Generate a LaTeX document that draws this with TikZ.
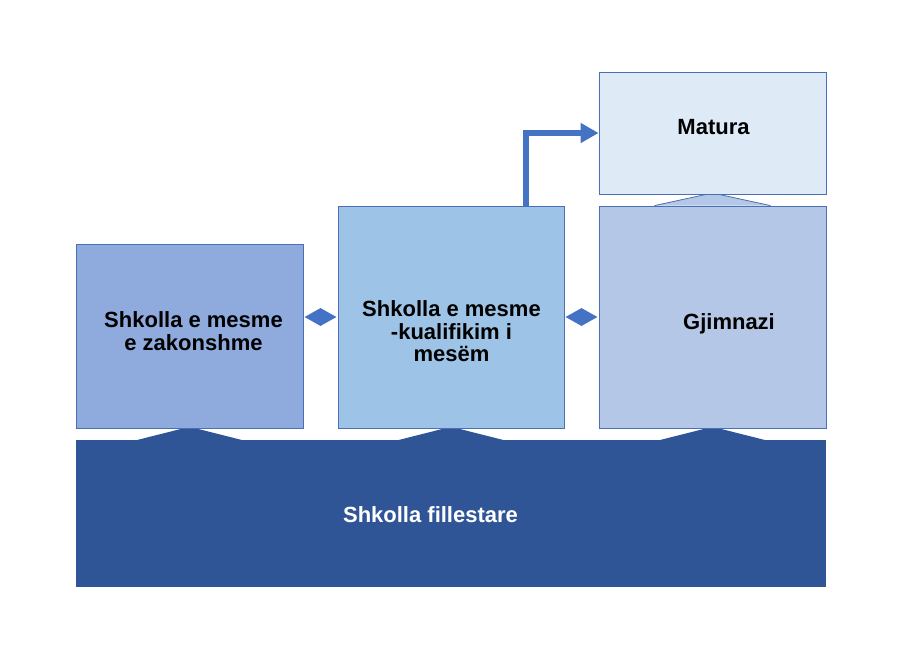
\documentclass[tikz,border=0pt]{standalone}
\usepackage{fontspec}
\setmainfont{Liberation Sans}
\usetikzlibrary{shapes.geometric,arrows.meta,calc}
\pgfdeclarelayer{background}
\pgfsetlayers{background,main}
\definecolor{cA}{HTML}{8FAADC}
\definecolor{cB}{HTML}{9DC3E6}
\definecolor{cC}{HTML}{B4C7E7}
\definecolor{cD}{HTML}{DEEBF7}
\definecolor{cBar}{HTML}{2F5597}
\definecolor{cBorder}{HTML}{4A6FB5}
\definecolor{cArrow}{HTML}{4472C4}
\begin{document}
\begin{tikzpicture}[x=1pt,y=-1pt,
  box/.style={draw=cBorder, line width=0.8pt, inner sep=0pt},
  lbl/.style={font=\fontsize{22}{22.5}\selectfont\bfseries, align=center, inner sep=0pt, text=black},
  dia/.style={diamond, fill=cArrow, inner sep=0pt, minimum width=32pt, minimum height=18pt},
  arr/.style={draw=cArrow, line width=6pt, -{Triangle[length=18pt,width=19pt]}},
  peak/.style={fill=cBar}
]
\useasboundingbox (0,0) rectangle (913,649);
% bottom bar
\node[fill=cBar, inner sep=0pt, minimum width=750pt, minimum height=147pt] (bar) at (451,513.5) {};
% boxes
\node[box, fill=cA, minimum width=227pt, minimum height=184pt] (b1) at (189.5,336) {};
\node[box, fill=cB, minimum width=226pt, minimum height=222pt] (b2) at (451,317) {};
\node[box, fill=cC, minimum width=227pt, minimum height=222pt] (b3) at (712.5,317) {};
\node[box, fill=cD, minimum width=227pt, minimum height=122pt] (mat) at (712.5,133) {};
% peaks from bar to boxes
\begin{pgfonlayer}{background}
\foreach \b in {b1,b2,b3}{
  \fill[peak] ($(\b.south)+(-58,13)$) -- ($(\b.south)+(-6.5,0)$) -- ($(\b.south)+(6.5,0)$) -- ($(\b.south)+(58,13)$) -- cycle;
}
\fill[cC] ($(b3.north)+(-58,0)$) -- ($(mat.south)+(-6.5,0)$) -- ($(mat.south)+(6.5,0)$) -- ($(b3.north)+(58,0)$) -- cycle;
\end{pgfonlayer}
\draw[cBorder, line width=0.8pt] ($(b3.north)+(-58,0)$) -- ($(mat.south)+(-6.5,0)$) -- ($(mat.south)+(6.5,0)$) -- ($(b3.north)+(58,0)$);
% diamonds
\node[dia] (d1) at ($(b1.east |- b2.west)!0.5!(b2.west)$) {};
\node[dia] (d2) at ($(b2.east)!0.5!(b3.west)$) {};
% arrow
\draw[arr] ($(b2.north)+(75,0)$) |- (mat.west);
% labels
\node[lbl] (t1) at (193.5,331) {Shkolla e mesme\\e zakonshme};
\node[lbl] (t2) at (451.5,331.5) {Shkolla e mesme\\-kualifikim i\\mesëm};
\node[lbl, anchor=base] (t3) at (729,329) {Gjimnazi};
\node[lbl, anchor=base] (t4) at (713.5,134) {Matura};
\node[lbl, anchor=base, text=white] (t5) at (430.5,522) {Shkolla fillestare};
\end{tikzpicture}
\end{document}
